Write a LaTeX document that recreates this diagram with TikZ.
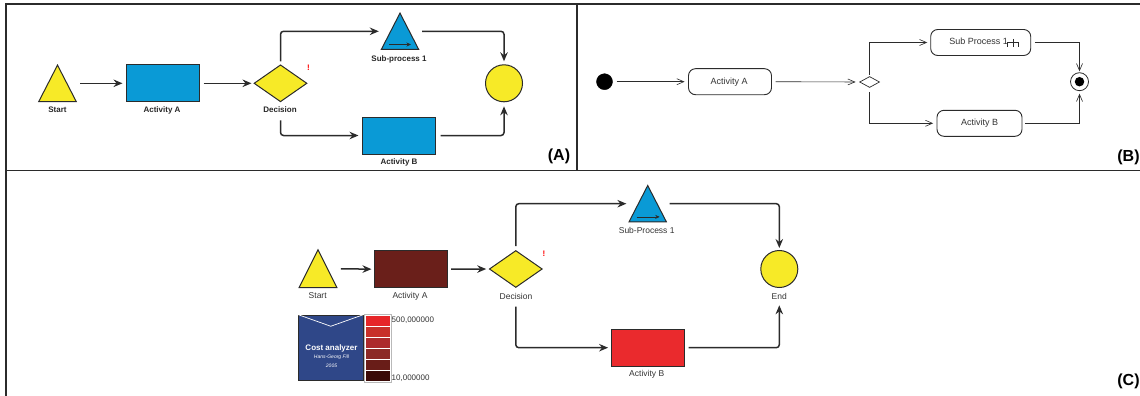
\documentclass[tikz,border=0pt]{standalone}
\usepackage{fontspec}
\setmainfont{Liberation Sans}
\usetikzlibrary{shapes.geometric,arrows.meta}

\definecolor{bpblue}{HTML}{0A9AD6}
\definecolor{bpyellow}{HTML}{F7EA27}
\definecolor{edgegray}{HTML}{2B2B2B}
\definecolor{txtgray}{HTML}{333333}
\definecolor{darkact}{HTML}{6A1F1A}
\definecolor{brightact}{HTML}{EA2A2D}
\definecolor{costblue}{HTML}{2F4788}
\definecolor{heat1}{HTML}{E62629}
\definecolor{heat2}{HTML}{C8302A}
\definecolor{heat3}{HTML}{AC2A2C}
\definecolor{heat4}{HTML}{8C2A26}
\definecolor{heat5}{HTML}{691D18}
\definecolor{heat6}{HTML}{3A0A07}

\tikzset{
  frame/.style={draw=edgegray, line width=1.5pt},
  flow/.style={draw=edgegray, line width=1.5pt, rounded corners=3pt,
    -{Stealth[length=9pt,width=7.5pt,inset=3pt]}},
  umlflow/.style={draw=edgegray, line width=0.6pt,
    -{Straight Barb[length=7pt,width=6pt]}},
  task/.style={draw=edgegray, line width=1pt, minimum width=73pt,
    minimum height=37pt, inner sep=0pt},
  gate/.style={diamond, draw=edgegray, line width=1pt, fill=bpyellow,
    minimum width=53pt, minimum height=37pt, inner sep=0pt},
  endevt/.style={circle, draw=edgegray, line width=1pt, fill=bpyellow,
    minimum size=37pt, inner sep=0pt},
  trislot/.style={minimum width=37pt, minimum height=36pt, inner sep=0pt},
  tri/.style={draw=edgegray, line width=1pt, line join=miter},
  lblA/.style={font=\fontsize{8}{9}\selectfont\bfseries, text=black!85, inner sep=0pt},
  lblC/.style={font=\fontsize{8.5}{10}\selectfont, text=txtgray, inner sep=0pt},
  lblB/.style={font=\fontsize{9}{10}\selectfont, text=txtgray, inner sep=0pt},
  umlact/.style={draw=edgegray, line width=0.9pt, rounded corners=7pt,
    minimum height=26pt, inner sep=0pt, fill=white},
  warn/.style={font=\fontsize{8}{9}\selectfont\bfseries, text=red, inner sep=0pt},
  tag/.style={font=\fontsize{16}{18}\selectfont\bfseries, text=black, inner sep=0pt},
  heat/.style={draw=white, line width=0.6pt, minimum width=25pt,
    minimum height=11pt, inner sep=0pt},
  scalelbl/.style={font=\fontsize{8}{9}\selectfont, text=txtgray, inner sep=0pt, anchor=west},
}

\begin{document}
\begin{tikzpicture}[x=1pt,y=-1pt]
\useasboundingbox (0,0) rectangle (1140,396);

% panel frames
\draw[frame] (1140,4) -- (6,4) -- (6,396);
\draw[frame] (577,4) -- (577,170.5);
\draw[frame] (6,170.5) -- (1140,170.5);

% ---------------- (A) BPMN model ----------------
\node[trislot] (startA) at (57.5,83.3) {};
\draw[tri, fill=bpyellow] (startA.south west) -- (startA.south east) -- (startA.north) -- cycle;
\node[task, fill=bpblue] (actAA) at (162.5,83.3) {};
\node[gate] (decA) at (280.5,83.3) {};
\node[trislot] (subA) at (400,31.3) {};
\draw[tri, fill=bpblue] (subA.south west) -- (subA.south east) -- (subA.north) -- cycle;
\draw[edgegray, line width=0.8pt, -{Stealth[length=4.5pt,width=4pt,inset=1.5pt]}]
  ([xshift=-11pt,yshift=5pt]subA.south) -- ([xshift=11pt,yshift=5pt]subA.south);
\node[endevt] (endA) at (504,83.3) {};
\node[task, fill=bpblue] (actBA) at (398.5,135.5) {};

\node[lblA] (startAl) at (57.5,110) {Start};
\node[lblA] (actAAl) at (162,110) {Activity A};
\node[lblA] (decAl) at (280,110) {Decision};
\node[lblA] (subAl) at (399,59) {Sub-process 1};
\node[lblA] (actBAl) at (399,162.5) {Activity B};
\node[warn] (warnA) at (308.5,68) {!};
\node[tag] (tagA) at (559,156) {(A)};

\draw[flow, shorten <=4pt, shorten >=3pt] (startA.east) -- (actAA.west);
\draw[flow, shorten <=4pt, shorten >=2pt] (actAA.east) -- (decA.west);
\draw[flow, shorten <=3pt, shorten >=2.5pt] (decA.north) |- (subA.west);
\draw[flow, shorten <=3.5pt, shorten >=3pt] (subA.east) -| (endA.north);
\draw[flow, shorten <=18pt, shorten >=3pt] (decA.south) |- (actBA.west);
\draw[flow, shorten <=5pt, shorten >=4pt] (actBA.east) -| (endA.south);

% ---------------- (B) UML activity diagram ----------------
\node[circle, fill=black, draw=black, minimum size=16pt, inner sep=0pt] (startB) at (604.5,81.7) {};
\node[umlact, minimum width=83pt] (actAB) at (730,81.7) {};
\node[lblB] (actABl) at (729,81.7) {Activity A};
\node[diamond, draw=edgegray, line width=0.7pt, fill=white, minimum width=20pt,
  minimum height=11pt, inner sep=0pt] (decB) at (869.6,82) {};
\node[umlact, minimum width=100pt] (subB) at (980.7,42.5) {};
\node[lblB, anchor=west] (subBl) at ([xshift=19pt,yshift=1pt]subB.west) {Sub Process 1};
% call-behaviour (rake) marker
\draw[edgegray, line width=0.7pt]
  ([xshift=-0.5pt]subBl.east) ++(0,1) -- ++(11,0)
  ([xshift=-0.5pt]subBl.east) ++(0,1) -- ++(0,4.5)
  ([xshift=5pt]subBl.east) ++(0,-2.5) -- ++(0,8)
  ([xshift=10.5pt]subBl.east) ++(0,1) -- ++(0,4.5);
\node[umlact, minimum width=85pt] (actBB) at (979.5,123.3) {};
\node[lblB] (actBBl) at (979.5,123.3) {Activity B};
\node[circle, draw=edgegray, line width=0.8pt, fill=white, minimum size=18pt, inner sep=0pt] (endB) at (1079.5,81.7) {};
\node[circle, fill=black, minimum size=9.5pt, inner sep=0pt] (endBdot) at (endB.center) {};
\node[tag] (tagB) at (1128.5,157) {(B)};

\draw[umlflow, shorten <=4pt, shorten >=3.5pt] (startB.east) -- (actAB.west);
\draw[umlflow, shorten <=3.6pt, shorten >=3.7pt] (actAB.east) -- (decB.west);
\draw[umlflow, shorten <=1.5pt, shorten >=3pt] (decB.north) |- (subB.west);
\draw[umlflow, shorten <=3.7pt, shorten >=1pt] (subB.east) -| (endB.north);
\draw[umlflow, shorten <=4pt, shorten >=3.4pt] (decB.south) |- (actBB.west);
\draw[umlflow, shorten <=3pt, shorten >=2.6pt] (actBB.east) -| (endB.south);

% ---------------- (C) annotated BPMN model ----------------
\node[trislot, minimum height=37.3pt, minimum width=37.4pt] (startC) at (318,268.7) {};
\draw[tri, fill=bpyellow] (startC.south west) -- (startC.south east) -- (startC.north) -- cycle;
\node[task, fill=darkact] (actAC) at (410.5,269.2) {};
\node[gate] (decC) at (515.8,269) {};
\node[trislot] (subC) at (647.7,203.7) {};
\draw[tri, fill=bpblue] (subC.south west) -- (subC.south east) -- (subC.north) -- cycle;
\draw[edgegray, line width=0.8pt, -{Stealth[length=4.5pt,width=4pt,inset=1.5pt]}]
  ([xshift=-11pt,yshift=5pt]subC.south) -- ([xshift=12pt,yshift=5pt]subC.south);
\node[endevt] (endC) at (779.3,269) {};
\node[task, fill=brightact] (actBC) at (647.5,347.7) {};

\node[lblC] (startCl) at (317.7,296) {Start};
\node[lblC] (actACl) at (410,296) {Activity A};
\node[lblC] (decCl) at (516,296) {Decision};
\node[lblC] (subCl) at (646.7,230) {Sub-Process 1};
\node[lblC] (endCl) at (779.3,296) {End};
\node[lblC] (actBCl) at (646.7,374) {Activity B};
\node[warn] (warnC) at (544,253.3) {!};
\node[tag] (tagC) at (1128.5,381) {(C)};

\draw[flow, shorten <=4pt, shorten >=2pt] (startC.east) -- (actAC.west);
\draw[flow, shorten <=3.7pt, shorten >=2.6pt] (actAC.east) -- (decC.west);
\draw[flow, shorten <=4pt, shorten >=2.6pt] (decC.north) |- (subC.west);
\draw[flow, shorten <=3.3pt, shorten >=2pt] (subC.east) -| (endC.north);
\draw[flow, shorten <=18.7pt, shorten >=2.4pt] (decC.south) |- (actBC.west);
\draw[flow, shorten <=4pt, shorten >=17.3pt] (actBC.east) -| (endC.south);

% cost analyzer legend
\node[draw=edgegray, line width=0.9pt, fill=costblue, minimum width=65pt,
  minimum height=65.7pt, inner sep=0pt] (costbox) at (330.8,347.85) {};
\draw[white, line width=0.7pt] (costbox.north west) -- ([yshift=-11.7pt]costbox.north) -- (costbox.north east);
\node[font=\fontsize{8}{9}\selectfont\bfseries, text=white, inner sep=0pt] (costttl) at (331.5,348.3) {Cost analyzer};
\node[font=\fontsize{5}{6}\selectfont\itshape, text=white, inner sep=0pt] (costauth) at (331.5,357.7) {Hans-Georg Fill};
\node[font=\fontsize{5}{6}\selectfont\itshape, text=white, inner sep=0pt] (costyear) at (331.5,366) {2005};

\node[heat, fill=heat1] (h1) at (377.5,320.5) {};
\node[heat, fill=heat2] (h2) at (377.5,331.5) {};
\node[heat, fill=heat3] (h3) at (377.5,342.5) {};
\node[heat, fill=heat4] (h4) at (377.5,353.5) {};
\node[heat, fill=heat5] (h5) at (377.5,364.5) {};
\node[heat, fill=heat6] (h6) at (377.5,375.5) {};
\draw[gray!55, line width=0.6pt] ([shift={(-0.5pt,0.5pt)}]h1.north west) rectangle ([shift={(0.5pt,-0.5pt)}]h6.south east);
\node[scalelbl] (hmax) at (391.5,320) {500,000000};
\node[scalelbl] (hmin) at (391.5,378) {10,000000};
\end{tikzpicture}
\end{document}
